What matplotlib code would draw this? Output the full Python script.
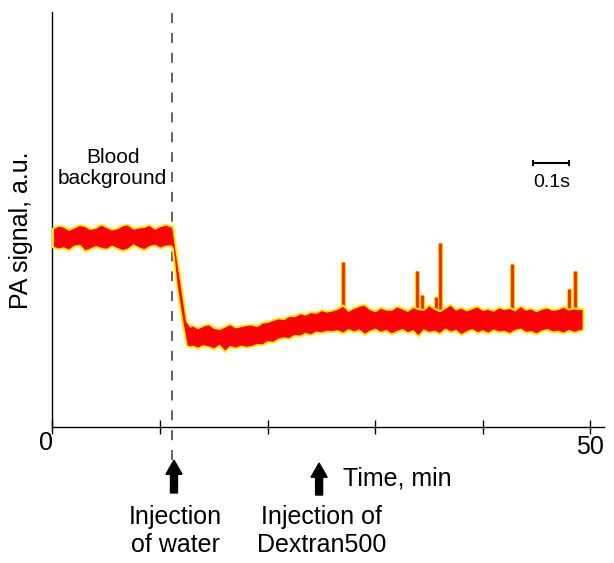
import matplotlib.pyplot as plt
import numpy as np
from matplotlib.transforms import ScaledTranslation

plt.rcParams['font.family'] = ['Liberation Sans', 'DejaVu Sans']

t_pre = np.arange(0, 11.01, 0.5)
up_pre = [47.9, 48.6, 48.4, 47.6, 48.2, 48.8, 48.5, 47.8, 48.1, 48.9, 48.3, 47.7,
          48.0, 48.7, 48.9, 47.9, 48.2, 48.3, 48.8, 47.9, 48.5, 48.9, 48.4]
lo_pre = [43.4, 42.9, 43.2, 42.6, 43.6, 43.8, 42.4, 42.9, 43.5, 43.1, 42.8, 43.6,
          43.0, 42.5, 42.9, 43.9, 43.2, 42.7, 43.5, 43.8, 43.1, 43.6, 43.7]

t_drop = [11.15, 11.5, 12.0, 12.45, 12.8]
up_drop = [48.6, 42.2, 33.5, 25.6, 24.3]
lo_drop = [43.0, 34.5, 26.0, 19.6, 19.3]

t_low = np.arange(13.0, 18.01, 0.5)
up_low = [24.6, 23.9, 24.5, 24.9, 24.0, 23.7, 24.3, 24.9, 24.1, 24.4, 24.7]
lo_low = [19.5, 19.0, 19.6, 19.3, 18.8, 19.7, 18.2, 19.4, 19.0, 19.5, 19.2]

t_rise = np.arange(18.5, 26.01, 0.5)
up_rise = [24.8, 24.4, 25.3, 25.4, 25.9, 26.3, 26.1, 26.9, 26.8, 27.5, 27.2, 27.8,
           27.6, 28.3, 27.9, 28.2]
lo_rise = [19.4, 19.9, 19.8, 20.6, 20.4, 21.2, 21.5, 21.3, 22.1, 21.9, 22.6, 22.2,
           22.9, 22.7, 23.1, 23.0]

t_late = np.arange(26.5, 49.01, 0.5)
up_late = [28.6, 29.4, 28.1, 28.8, 29.3, 29.6, 28.5, 28.0, 28.9, 28.4, 28.3, 29.2,
           28.7, 28.1, 29.0, 28.5, 28.3, 29.5, 28.6, 28.0, 28.8, 29.6, 28.4, 28.9,
           28.2, 28.7, 29.2, 28.3, 28.6, 28.1, 29.0, 28.5, 28.8, 28.2, 29.3, 28.4,
           28.7, 28.0, 28.6, 28.9, 28.3, 28.5, 29.1, 28.4, 28.7, 28.5]
lo_late = [23.2, 22.6, 23.5, 22.9, 23.4, 22.3, 23.1, 23.6, 22.8, 23.3, 22.4, 23.0,
           23.5, 22.7, 23.2, 21.9, 23.4, 22.8, 23.1, 22.5, 23.6, 22.9, 23.3, 22.2,
           23.0, 23.5, 22.7, 23.2, 22.6, 23.4, 22.9, 23.1, 22.5, 23.3, 23.6, 22.8,
           23.0, 22.4, 23.2, 23.5, 22.9, 23.1, 22.6, 23.3, 22.8, 23.2]

t_end = [49.35]
up_end = [28.6]
lo_end = [23.4]

# spikes after Dextran injection
spike_t = [27.0, 33.9, 34.4, 35.7, 36.0, 42.7, 48.0, 48.6]
spike_top = [39.8, 37.7, 31.8, 31.4, 44.4, 39.3, 33.3, 37.6]
spike_base = 27.5

t_water = 11.15
t_dextran = 24.8

t = np.concatenate([t_pre, t_drop, t_low, t_rise, t_late, t_end])
upper = np.concatenate([up_pre, up_drop, up_low, up_rise, up_late, up_end])
lower = np.concatenate([lo_pre, lo_drop, lo_low, lo_rise, lo_late, lo_end])

fig = plt.figure(figsize=(6.14, 5.63), dpi=100)
ax = fig.add_axes([0.0855, 0.2416, 0.8982, 0.7371])

ax.vlines(spike_t, spike_base, spike_top, color='#ffd200', lw=3.8, capstyle='butt', zorder=2)
ax.vlines(spike_t, spike_base, spike_top, color='#f02800', lw=2.0, capstyle='butt', zorder=3)
ax.fill_between(t, lower, upper, facecolor='#ff0000', edgecolor='#ffee00', lw=1.4, zorder=4)

# injection of water marker
ax.plot([t_water, t_water], [-8.0, 101], color='#555555', lw=1.3, dashes=(5.5, 5.5),
        clip_on=False, zorder=1)
ax.arrow(t_water + 0.15, -15.9, 0, 7.9, width=0.65, head_width=1.5, head_length=3.4,
         length_includes_head=True, color='black', clip_on=False)
ax.arrow(t_dextran, -16.4, 0, 7.7, width=0.65, head_width=1.5, head_length=3.4,
         length_includes_head=True, color='black', clip_on=False)

ax.text(11.4, -25.1, 'Injection\nof water', fontsize=18, ha='center', va='center',
        clip_on=False)
ax.text(25.0, -25.1, 'Injection of\nDextran500', fontsize=18, ha='center', va='center',
        clip_on=False)
ax.text(27.0, -14.0, 'Time, min', fontsize=18, ha='left', va='baseline', clip_on=False)
ax.text(5.6, 62.4, 'Blood\nbackground', fontsize=15, ha='center', va='center',
        linespacing=1.15)

# 0.1 s scale bar
ax.plot([44.7, 48.05], [63.6, 63.6], color='black', lw=1.5, marker='|', markersize=5,
        markeredgewidth=1.5)
ax.text(46.4, 59.0, '0.1s', fontsize=14, ha='center', va='center')

fig.text(0.0334, 0.5906, 'PA signal, a.u.', fontsize=18, rotation=90, ha='center', va='center')

ax.set_xlim(0, 51.3)
ax.set_ylim(0, 100)
ax.set_xticks([0, 10, 20, 30, 40, 50])
ax.set_xticklabels(['0', '', '', '', '', '50'], fontsize=18)
ax.tick_params(axis='x', direction='inout', length=10, width=1, pad=1)
ax.set_yticks([])
ax.spines['top'].set_visible(False)
ax.spines['right'].set_visible(False)
ax.spines['left'].set_linewidth(1)
ax.spines['bottom'].set_linewidth(1)

zero_label = ax.get_xticklabels()[0]
zero_label.set_transform(zero_label.get_transform()
                         + ScaledTranslation(-0.06, 0.04, fig.dpi_scale_trans))

fig.savefig('out.png', dpi=100)
